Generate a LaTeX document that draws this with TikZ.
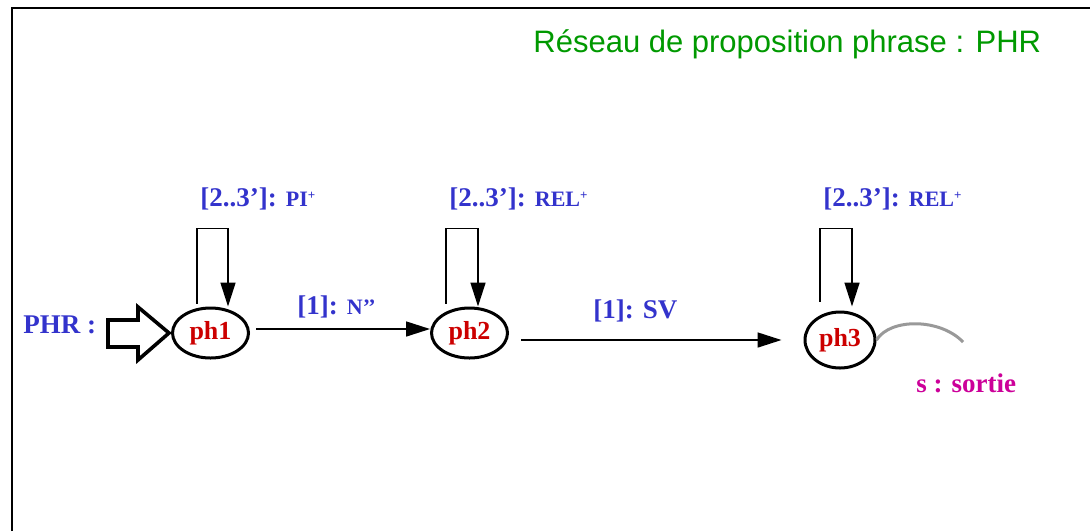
\documentclass[tikz,border=0pt]{standalone}
\usepackage{fontspec}
\setmainfont{Liberation Serif}
\newfontfamily\titlefont{Liberation Sans}
\usepackage{tikz}
\usetikzlibrary{arrows.meta,shapes.geometric}
\definecolor{phrblue}{RGB}{51, 51, 204}
\definecolor{phrred}{RGB}{204, 0, 0}
\definecolor{phrmagenta}{RGB}{204, 0, 153}
\definecolor{phrgreen}{RGB}{0, 153, 0}
\newcommand{\smalltag}[1]{{\fontsize{11}{12}\selectfont #1}}
\newcommand{\plustag}{\raisebox{3.5pt}{\fontsize{6.5}{7}\selectfont +}}

\begin{document}
\begin{tikzpicture}[x=0.5pt, y=-0.5pt,
    state/.style={draw, ellipse, line width=1.5pt, inner sep=0pt,
      minimum width=38pt, minimum height=25pt, text=phrred,
      font=\bfseries\fontsize{13}{15}\selectfont},
    lbl/.style={anchor=west, inner sep=0pt, text=phrblue,
      font=\bfseries\fontsize{13.5}{15}\selectfont},
    arr/.style={-{Triangle[length=12pt, width=7.5pt]}, line width=0.8pt}]
    \useasboundingbox (0,0) rectangle (1090,531);
    \draw[line width=1pt] (11.5,531) -- (11.5,8) -- (1090,8);

    \node (title) [anchor=west, inner sep=0pt, text=phrgreen, font=\titlefont\fontsize{15.5}{18}\selectfont] at (533,44) {Réseau de proposition phrase : PHR};

    \node (ph1) [state] at (210.5,333) {ph1};
    \node (ph2) [state] at (469.5,333) {ph2};
    \node (ph3) [state, minimum width=35pt, minimum height=28pt] at (840,340) {ph3};

    \node (entry) [lbl] at (23,325) {PHR :};
    \node (loop1) [lbl] at (200,199) {[2..3’]: \smalltag{PI}\plustag};
    \node (loop2) [lbl] at (449,199) {[2..3’]: \smalltag{REL}\plustag};
    \node (loop3) [lbl] at (823,199) {[2..3’]: \smalltag{REL}\plustag};
    \node (n1) [lbl] at (297,307) {[1]: \smalltag{N’’}};
    \node (sv) [lbl] at (593,311) {[1]: SV};
    \node (exit) [lbl, text=phrmagenta] at (916,383) {s : sortie};

    % hollow entry arrow
    \draw[line width=1.8pt, fill=white, line join=miter] ([xshift=-1pt]ph1.west) -- ++(-15.5pt,13pt) -- ++(0pt,-6.5pt) -- ++(-15pt,0pt)
        -- ++(0pt,-13.5pt) -- ++(15pt,0pt) -- ++(0pt,-6.5pt) -- cycle;

    % self loops
    \draw[arr] ([xshift=-6.75pt, yshift=1.5pt]ph1.north) -- ++(0pt,37.5pt) -| ([xshift=8.75pt]ph1.north);
    \draw[arr] ([xshift=-11.75pt, yshift=1.5pt]ph2.north) -- ++(0pt,37.5pt) -| ([xshift=4.25pt]ph2.north);
    \draw[arr] ([xshift=-10pt, yshift=4.5pt]ph3.north) -- ++(0pt,36.5pt) -| ([xshift=6pt, yshift=2pt]ph3.north);

    % transitions
    \draw[arr, shorten <=3pt] ([yshift=2pt]ph1.east) -- ([yshift=2pt]ph2.west);
    \draw[arr, shorten <=6pt, shorten >=11pt] (ph2.east |- ph3.west) -- (ph3.west);

    % exit
    \coordinate (out) at (963,342);
    \draw[line width=1.5pt, gray!80] (ph3.east) .. controls (890,318) and (940,318) .. (out);
\end{tikzpicture}
\end{document}
